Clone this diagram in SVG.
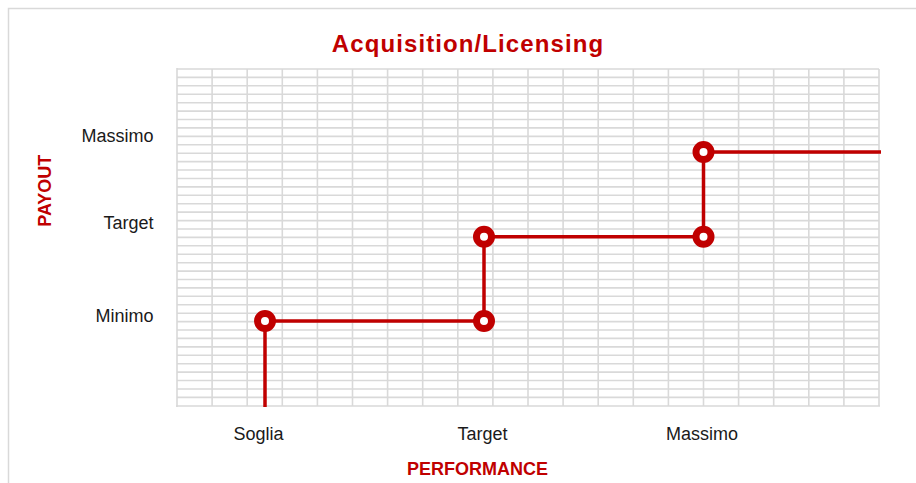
<svg xmlns="http://www.w3.org/2000/svg" width="916" height="483" viewBox="0 0 916 483">
<style>
.grid line{stroke:#d9d9d9;stroke-width:1.6}
.axis{stroke:#bfbfbf;stroke-width:2}
.lbl{font-family:"Liberation Sans",Arial,sans-serif;font-size:18px;fill:#1a1a1a}
.red{font-family:"Liberation Sans",Arial,sans-serif;font-weight:bold;fill:#c00000}
.step{fill:none;stroke:#c00000;stroke-width:3.5}
.pt{fill:#fff;stroke:#c00000;stroke-width:7}
</style>
<rect x="0" y="0" width="916" height="483" fill="#fff"/>
<rect x="8.5" y="8.5" width="920" height="490" fill="none" stroke="#d9d9d9" stroke-width="1.5"/>
<g id="grid" class="grid">
<line x1="177" y1="69" x2="879" y2="69"/><line x1="177" y1="77.4" x2="879" y2="77.4"/><line x1="177" y1="85.8" x2="879" y2="85.8"/><line x1="177" y1="94.3" x2="879" y2="94.3"/><line x1="177" y1="102.7" x2="879" y2="102.7"/><line x1="177" y1="111.1" x2="879" y2="111.1"/><line x1="177" y1="119.5" x2="879" y2="119.5"/><line x1="177" y1="127.9" x2="879" y2="127.9"/><line x1="177" y1="136.4" x2="879" y2="136.4"/><line x1="177" y1="144.8" x2="879" y2="144.8"/><line x1="177" y1="153.2" x2="879" y2="153.2"/><line x1="177" y1="161.6" x2="879" y2="161.6"/><line x1="177" y1="170" x2="879" y2="170"/><line x1="177" y1="178.5" x2="879" y2="178.5"/><line x1="177" y1="186.9" x2="879" y2="186.9"/><line x1="177" y1="195.3" x2="879" y2="195.3"/><line x1="177" y1="203.7" x2="879" y2="203.7"/><line x1="177" y1="212.1" x2="879" y2="212.1"/><line x1="177" y1="220.6" x2="879" y2="220.6"/><line x1="177" y1="229" x2="879" y2="229"/><line x1="177" y1="237.4" x2="879" y2="237.4"/><line x1="177" y1="245.8" x2="879" y2="245.8"/><line x1="177" y1="254.2" x2="879" y2="254.2"/><line x1="177" y1="262.7" x2="879" y2="262.7"/><line x1="177" y1="271.1" x2="879" y2="271.1"/><line x1="177" y1="279.5" x2="879" y2="279.5"/><line x1="177" y1="287.9" x2="879" y2="287.9"/><line x1="177" y1="296.3" x2="879" y2="296.3"/><line x1="177" y1="304.8" x2="879" y2="304.8"/><line x1="177" y1="313.2" x2="879" y2="313.2"/><line x1="177" y1="321.6" x2="879" y2="321.6"/><line x1="177" y1="330" x2="879" y2="330"/><line x1="177" y1="338.4" x2="879" y2="338.4"/><line x1="177" y1="346.9" x2="879" y2="346.9"/><line x1="177" y1="355.3" x2="879" y2="355.3"/><line x1="177" y1="363.7" x2="879" y2="363.7"/><line x1="177" y1="372.1" x2="879" y2="372.1"/><line x1="177" y1="380.5" x2="879" y2="380.5"/><line x1="177" y1="389" x2="879" y2="389"/><line x1="177" y1="397.4" x2="879" y2="397.4"/>
<line x1="212.1" y1="69" x2="212.1" y2="406"/><line x1="247.2" y1="69" x2="247.2" y2="406"/><line x1="282.3" y1="69" x2="282.3" y2="406"/><line x1="317.4" y1="69" x2="317.4" y2="406"/><line x1="352.5" y1="69" x2="352.5" y2="406"/><line x1="387.6" y1="69" x2="387.6" y2="406"/><line x1="422.7" y1="69" x2="422.7" y2="406"/><line x1="457.8" y1="69" x2="457.8" y2="406"/><line x1="492.9" y1="69" x2="492.9" y2="406"/><line x1="528" y1="69" x2="528" y2="406"/><line x1="563.1" y1="69" x2="563.1" y2="406"/><line x1="598.2" y1="69" x2="598.2" y2="406"/><line x1="633.3" y1="69" x2="633.3" y2="406"/><line x1="668.4" y1="69" x2="668.4" y2="406"/><line x1="703.5" y1="69" x2="703.5" y2="406"/><line x1="738.6" y1="69" x2="738.6" y2="406"/><line x1="773.7" y1="69" x2="773.7" y2="406"/><line x1="808.8" y1="69" x2="808.8" y2="406"/><line x1="843.9" y1="69" x2="843.9" y2="406"/><line x1="879" y1="69" x2="879" y2="406"/>
<line class="axis" x1="177" y1="68" x2="177" y2="407"/>
<line class="axis" x1="176" y1="406" x2="880" y2="406"/>
</g>
<text x="468" y="51.5" class="red" font-size="24" letter-spacing="1.1" text-anchor="middle">Acquisition/Licensing</text>
<g id="y-labels" class="lbl" text-anchor="end">
<text x="153.5" y="141.7">Massimo</text>
<text x="153.5" y="229.3">Target</text>
<text x="153.5" y="321.7">Minimo</text>
</g>
<g id="x-labels" class="lbl" text-anchor="middle">
<text x="258.5" y="440">Soglia</text>
<text x="482.5" y="440">Target</text>
<text x="702" y="440">Massimo</text>
</g>
<text class="red" font-size="18" text-anchor="middle" transform="translate(50.5,190.7) rotate(-90)">PAYOUT</text>
<text class="red" font-size="18" x="477.5" y="475" text-anchor="middle">PERFORMANCE</text>
<g id="connectors">
<polyline class="step" points="265,407 265,321 484,321 484,236.8 703.5,236.8 703.5,152 881,152"/>
</g>
<g id="p1"><circle class="pt" cx="265" cy="321" r="7.5"/></g>
<g id="p2"><circle class="pt" cx="484" cy="321" r="7.5"/></g>
<g id="p3"><circle class="pt" cx="484" cy="236.8" r="7.5"/></g>
<g id="p4"><circle class="pt" cx="703.5" cy="236.8" r="7.5"/></g>
<g id="p5"><circle class="pt" cx="703.5" cy="152" r="7.5"/></g>
</svg>
